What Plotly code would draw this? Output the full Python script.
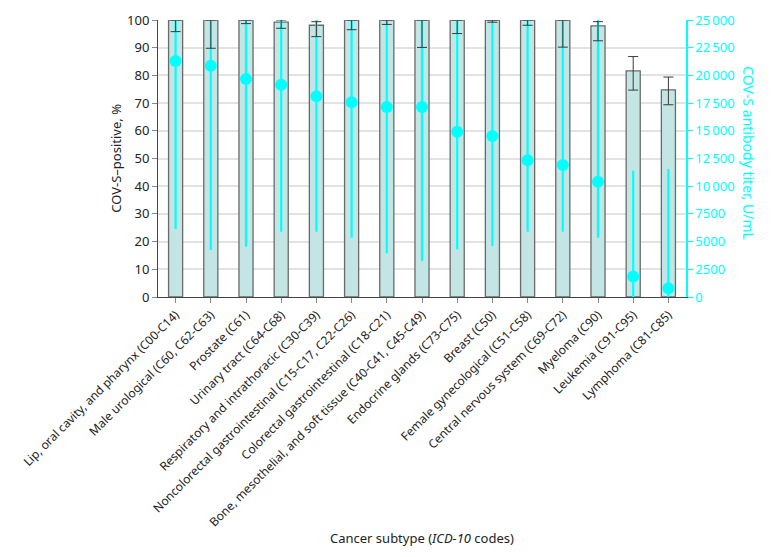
import plotly.graph_objects as go

categories = [
    "Lip, oral cavity, and pharynx (C00-C14)",
    "Male urological (C60, C62-C63)",
    "Prostate (C61)",
    "Urinary tract (C64-C68)",
    "Respiratory and intrathoracic (C30-C39)",
    "Noncolorectal gastrointestinal (C15-C17, C22-C26)",
    "Colorectal gastrointestinal (C18-C21)",
    "Bone, mesothelial, and soft tissue (C40-C41, C45-C49)",
    "Endocrine glands (C73-C75)",
    "Breast (C50)",
    "Female gynecological (C51-C58)",
    "Central nervous system (C69-C72)",
    "Myeloma (C90)",
    "Leukemia (C91-C95)",
    "Lymphoma (C81-C85)",
]

# % COV-S positive with 95% CI
pct_positive = [100, 100, 100, 99.2, 98.1, 100, 100, 100, 100, 100, 100, 100, 97.9, 81.6, 74.8]
pct_upper = [100, 100, 100, 100, 99.4, 100, 100, 100, 100, 100, 100, 100, 99.4, 86.8, 79.4]
pct_lower = [95.8, 89.8, 98.7, 97.0, 94.0, 96.5, 98.4, 90.1, 95.1, 99.2, 98.1, 90.2, 92.5, 74.7, 69.4]

# COV-S antibody titer, U/mL (median with range)
titer = [21300, 20880, 19680, 19160, 18110, 17570, 17150, 17150, 14920, 14530, 12340, 11910, 10410, 1840, 790]
titer_upper = [25000, 25000, 25000, 25000, 25000, 25000, 25000, 25000, 25000, 25000, 25000, 25000, 25000, 11400, 11550]
titer_lower = [6140, 4240, 4540, 5890, 5890, 5350, 3940, 3250, 4300, 4600, 5890, 5890, 5350, 0, 0]

left_ticks = [0, 10, 20, 30, 40, 50, 60, 70, 80, 90, 100]
right_ticks = [0, 2500, 5000, 7500, 10000, 12500, 15000, 17500, 20000, 22500, 25000]
right_ticktext = ["0", "2500", "5000", "7500", "10\u2009000", "12\u2009500", "15\u2009000",
                  "17\u2009500", "20\u2009000", "22\u2009500", "25\u2009000"]

CYAN = "#00FFFF"
FONT = "Noto Sans"

fig = go.Figure()

fig.add_trace(go.Bar(
    x=categories, y=pct_positive, yaxis="y",
    marker=dict(color="#c3e6e4", line=dict(color="#6a6a6a", width=1.3)),
    width=0.40, showlegend=False, hoverinfo="skip",
))

fig.add_trace(go.Scatter(
    x=categories, y=titer, yaxis="y2", mode="markers",
    marker=dict(color=CYAN, size=12),
    error_y=dict(type="data", symmetric=False,
                 array=[u - v for u, v in zip(titer_upper, titer)],
                 arrayminus=[v - l for v, l in zip(titer, titer_lower)],
                 color=CYAN, thickness=2.2, width=0),
    showlegend=False, hoverinfo="skip",
))

fig.add_trace(go.Scatter(
    x=categories, y=pct_positive, yaxis="y3", mode="markers",
    marker=dict(size=0.1, opacity=0),
    error_y=dict(type="data", symmetric=False,
                 array=[u - v for u, v in zip(pct_upper, pct_positive)],
                 arrayminus=[v - l for v, l in zip(pct_positive, pct_lower)],
                 color="#3a3a3a", thickness=1, width=5),
    showlegend=False, hoverinfo="skip",
))

fig.update_layout(
    width=780, height=557,
    margin=dict(l=150, r=102, t=12, b=268, autoexpand=False),
    plot_bgcolor="white", paper_bgcolor="white",
    font=dict(family=FONT, size=12, color="#222"),
    xaxis=dict(
        range=[-0.5, len(categories) - 0.5],
        tickangle=-45, showline=True, linecolor="#444", linewidth=1,
        ticks="outside", ticklen=5, tickcolor="#888", showgrid=False,
        tickfont=dict(size=12, color="#222"), automargin=False,
    ),
    yaxis=dict(
        range=[0, 100], tickvals=left_ticks, showline=True, linecolor="#444", linewidth=1,
        ticks="outside", ticklen=5, tickcolor="#888",
        showgrid=True, gridcolor="#e3e3e3", gridwidth=1.5, zeroline=False,
        tickfont=dict(size=13, color="#222"), automargin=False,
    ),
    yaxis2=dict(
        range=[0, 25000], overlaying="y", side="right",
        tickvals=right_ticks, ticktext=right_ticktext,
        showline=True, linecolor=CYAN, linewidth=1.5,
        ticks="outside", ticklen=5, tickcolor=CYAN,
        showgrid=False, zeroline=False,
        tickfont=dict(size=13, color=CYAN), automargin=False,
    ),
    yaxis3=dict(range=[0, 100], overlaying="y", visible=False),
    annotations=[
        dict(text="COV-S\u2013positive, %", xref="paper", yref="paper",
             x=-0.081, y=0.5, textangle=-90, showarrow=False,
             xanchor="center", yanchor="middle", font=dict(size=13, color="#222")),
        dict(text="COV-S antibody titer, U/mL", xref="paper", yref="paper",
             x=1.117, y=0.52, textangle=90, showarrow=False,
             xanchor="center", yanchor="middle", font=dict(size=14, color=CYAN)),
        dict(text="Cancer subtype (<i>ICD-10</i> codes)", xref="paper", yref="paper",
             x=0.5, y=-0.87, showarrow=False,
             xanchor="center", yanchor="middle", font=dict(size=13, color="#222")),
    ],
)

fig.write_html("out.html")
